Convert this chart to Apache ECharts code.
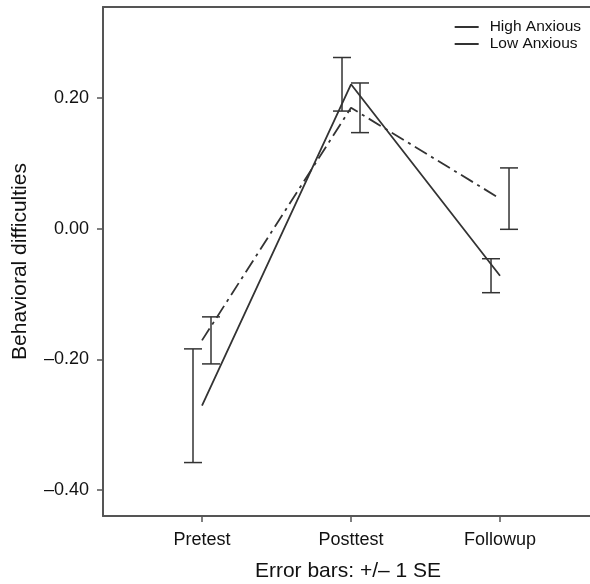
<!DOCTYPE html>
<html>
<head>
<meta charset="utf-8">
<script src="https://cdn.jsdelivr.net/npm/echarts@6/dist/echarts.min.js"></script>
<style>
  html, body { margin: 0; padding: 0; background: #fff; }
  #chart { width: 590px; height: 584px; }
</style>
</head>
<body>
<div id="chart"></div>
<script>
// 数据
var categories = ['Pretest', 'Posttest', 'Followup'];
var highMean = [-0.271, 0.221, -0.072];
var highSE = [0.087, 0.041, 0.026];
var lowMean = [-0.171, 0.185, 0.046];
var lowSE = [0.036, 0.038, 0.047];
var yTicks = [-0.4, -0.2, 0, 0.2];

(function() {
    var toLine = function(means) {
        var out = [];
        for (var i = 0; i < means.length; i++) {
            out.push([i + 1, means[i]]);
        }
        return out;
    };
    var toBars = function(means, se) {
        var out = [];
        for (var i = 0; i < means.length; i++) {
            out.push([i + 1, means[i] - se[i], means[i] + se[i]]);
        }
        return out;
    };

    // 误差线
    var errorRender = function(offset) {
        return function(params, api) {
            var lo = api.coord([api.value(0), api.value(1)]);
            var hi = api.coord([api.value(0), api.value(2)]);
            var x = lo[0] + offset;
            var half = 9;
            var style = { stroke: '#333', lineWidth: 1.5 };
            return {
                type: 'group',
                children: [
                    { type: 'line', shape: { x1: x, y1: lo[1], x2: x, y2: hi[1] }, style: style },
                    { type: 'line', shape: { x1: x - half, y1: lo[1], x2: x + half, y2: lo[1] }, style: style },
                    { type: 'line', shape: { x1: x - half, y1: hi[1], x2: x + half, y2: hi[1] }, style: style }
                ]
            };
        };
    };

    var font = 'Liberation Sans, Arial, sans-serif';
    var axisLineStyle = { color: '#555', width: 2 };

    var option = {
        animation: false,
        textStyle: { fontFamily: font },
        grid: { left: 103, top: 7, width: 490, height: 509, outerBoundsMode: 'none' },
        legend: {
            orient: 'vertical',
            right: 4,
            top: 14,
            icon: 'rect',
            itemWidth: 24,
            itemHeight: 2,
            itemGap: 1,
            textStyle: { fontSize: 15.5, lineHeight: 16, padding: [0, 0, 0, 6], color: '#111', fontFamily: font },
            data: ['High Anxious', 'Low Anxious']
        },
        xAxis: [{
            type: 'value',
            min: 0.3356,
            max: 3.624,
            splitLine: { show: false },
            axisLine: { onZero: false, lineStyle: axisLineStyle },
            axisTick: { length: 6, customValues: [1, 2, 3], lineStyle: { color: '#555', width: 1.5 } },
            axisLabel: {
                customValues: [1, 2, 3],
                margin: 15,
                fontSize: 18,
                color: '#111',
                formatter: function(v) { return categories[Math.round(v) - 1]; }
            },
            name: 'Error bars: +/\u2013 1 SE',
            nameLocation: 'middle',
            nameGap: 45,
            nameTextStyle: { fontSize: 21, color: '#111' }
        }, {
            type: 'value',
            position: 'top',
            min: 0.3356,
            max: 3.624,
            splitLine: { show: false },
            axisLine: { onZero: false, lineStyle: axisLineStyle },
            axisTick: { show: false },
            axisLabel: { show: false }
        }],
        yAxis: {
            type: 'value',
            min: -0.4398,
            max: 0.3393,
            splitLine: { show: false },
            axisLine: { onZero: false, lineStyle: axisLineStyle },
            axisTick: { length: 6, customValues: yTicks, lineStyle: { color: '#555', width: 1.5 } },
            axisLabel: {
                customValues: yTicks,
                margin: 14,
                fontSize: 18,
                color: '#111',
                formatter: function(v) {
                    var s = Math.abs(v).toFixed(2);
                    return v < -1e-9 ? '\u2013' + s : s;
                }
            },
            name: 'Behavioral difficulties',
            nameLocation: 'middle',
            nameRotate: 90,
            nameGap: 72,
            nameTextStyle: { fontSize: 21, color: '#111' }
        },
        series: [{
            name: 'High Anxious',
            type: 'line',
            symbol: 'none',
            lineStyle: { color: '#333', width: 1.8, type: 'solid' },
            itemStyle: { color: '#333' },
            data: toLine(highMean)
        }, {
            name: 'Low Anxious',
            type: 'line',
            symbol: 'none',
            lineStyle: { color: '#333', width: 1.8, type: [14, 5, 3, 5] },
            itemStyle: { color: '#333' },
            data: toLine(lowMean)
        }, {
            name: 'High Anxious SE',
            type: 'custom',
            renderItem: errorRender(-9),
            encode: { x: 0, y: [1, 2] },
            data: toBars(highMean, highSE)
        }, {
            name: 'Low Anxious SE',
            type: 'custom',
            renderItem: errorRender(9),
            encode: { x: 0, y: [1, 2] },
            data: toBars(lowMean, lowSE)
        }]
    };

    var echart = echarts.init(document.getElementById('chart'));
    echart.setOption(option);
})();
</script>
</body>
</html>
